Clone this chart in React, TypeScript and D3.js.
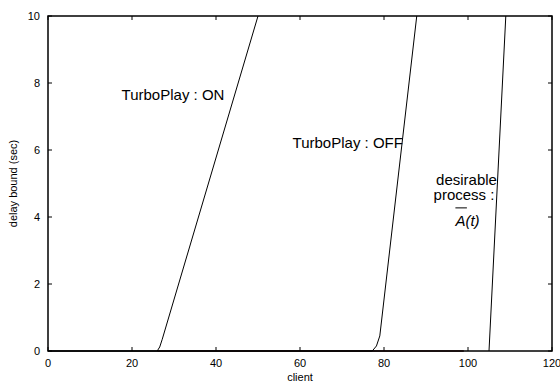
import * as d3 from "d3";
import React, { useRef, useEffect } from "react";

// series (client, delay bound in sec)
const turboOnX = [0, 26, 26.6, 27.2, 50];
const turboOnY = [0, 0, 0.12, 0.35, 10];
const turboOffX = [0, 77.2, 78.2, 79, 87.8];
const turboOffY = [0, 0, 0.15, 0.45, 10];
const desirableX = [105, 109];
const desirableY = [0, 10];
const baselineX = [26, 99];
const baselineY = [0, 0];

const xTicks = [0, 20, 40, 60, 80, 100, 120];
const yTicks = [0, 2, 4, 6, 8, 10];

const zip = (xs: number[], ys: number[]) => xs.map((x, i) => [x, ys[i]] as [number, number]);

export default function App() {
  const svgRef = useRef<SVGSVGElement | null>(null);

  useEffect(() => {
    if (!svgRef.current) return;
    d3.select(svgRef.current).selectAll("*").remove();

    const W = 560;
    const H = 381;
    const margin = { top: 16, right: 8, bottom: 30, left: 48 };
    const width = W - margin.left - margin.right;
    const height = H - margin.top - margin.bottom;
    const font = "'Liberation Sans', Arial, Helvetica, sans-serif";

    const svg = d3.select(svgRef.current).attr("width", W).attr("height", H);
    const g = svg.append("g").attr("transform", `translate(${margin.left},${margin.top})`);

    const x = d3.scaleLinear().domain([0, 120]).range([0, width]);
    const y = d3.scaleLinear().domain([0, 10]).range([height, 0]);

    // gnuplot-style inward ticks, mirrored
    const tk = 4;
    xTicks.forEach((t) => {
      g.append("line").attr("x1", x(t)).attr("x2", x(t)).attr("y1", height).attr("y2", height - tk).attr("stroke", "#000");
      g.append("line").attr("x1", x(t)).attr("x2", x(t)).attr("y1", 0).attr("y2", tk).attr("stroke", "#000");
      g.append("text")
        .attr("x", x(t))
        .attr("y", height + 16)
        .attr("text-anchor", "middle")
        .style("font-family", font)
        .style("font-size", "11px")
        .text(t);
    });
    yTicks.forEach((t) => {
      g.append("line").attr("x1", 0).attr("x2", tk).attr("y1", y(t)).attr("y2", y(t)).attr("stroke", "#000");
      g.append("line").attr("x1", width).attr("x2", width - tk).attr("y1", y(t)).attr("y2", y(t)).attr("stroke", "#000");
      g.append("text")
        .attr("x", -8)
        .attr("y", y(t) + 4)
        .attr("text-anchor", "end")
        .style("font-family", font)
        .style("font-size", "11px")
        .text(t);
    });

    const line = d3
      .line<[number, number]>()
      .x((d) => x(d[0]))
      .y((d) => y(d[1]));

    g.append("path").attr("d", line(zip(baselineX, baselineY))).attr("fill", "none").attr("stroke", "#3a0808").attr("stroke-width", 1.5);
    [zip(turboOnX, turboOnY), zip(turboOffX, turboOffY), zip(desirableX, desirableY)].forEach((pts) => {
      g.append("path").attr("d", line(pts)).attr("fill", "none").attr("stroke", "#000").attr("stroke-width", 1);
    });

    // frame
    g.append("rect")
      .attr("width", width)
      .attr("height", height)
      .attr("fill", "none")
      .attr("stroke", "#000")
      .attr("stroke-width", 1.5);

    // curve labels
    const label = (tx: number, ty: number, s: string) =>
      g.append("text")
        .attr("x", tx)
        .attr("y", ty)
        .attr("text-anchor", "end")
        .style("font-family", font)
        .style("font-size", "15px")
        .text(s);

    label(x(42), y(7.5), "TurboPlay : ON");
    label(x(84.5), y(6.05), "TurboPlay : OFF");
    label(x(106.9), y(4.97), "desirable");
    label(x(106.3), y(4.5), "process :");
    const atX = x(97.0);
    const atY = y(3.72);
    g.append("text")
      .attr("x", atX)
      .attr("y", atY)
      .style("font-family", font)
      .style("font-size", "15px")
      .style("font-style", "italic")
      .text("A(t)");
    g.append("line")
      .attr("x1", atX)
      .attr("x2", atX + 11.5)
      .attr("y1", atY - 18.5)
      .attr("y2", atY - 18.5)
      .attr("stroke", "#000")
      .attr("stroke-width", 1);

    // axis titles
    g.append("text")
      .attr("transform", `translate(-31,${height / 2}) rotate(-90)`)
      .attr("text-anchor", "middle")
      .style("font-family", font)
      .style("font-size", "11px")
      .text("delay bound (sec)");
    g.append("text")
      .attr("x", width / 2)
      .attr("y", height + 29.5)
      .attr("text-anchor", "middle")
      .style("font-family", font)
      .style("font-size", "11px")
      .text("client");
  }, []);

  return (
    <div style={{ position: "absolute", left: 0, top: 0, background: "#fff" }}>
      <svg ref={svgRef}></svg>
    </div>
  );
}
